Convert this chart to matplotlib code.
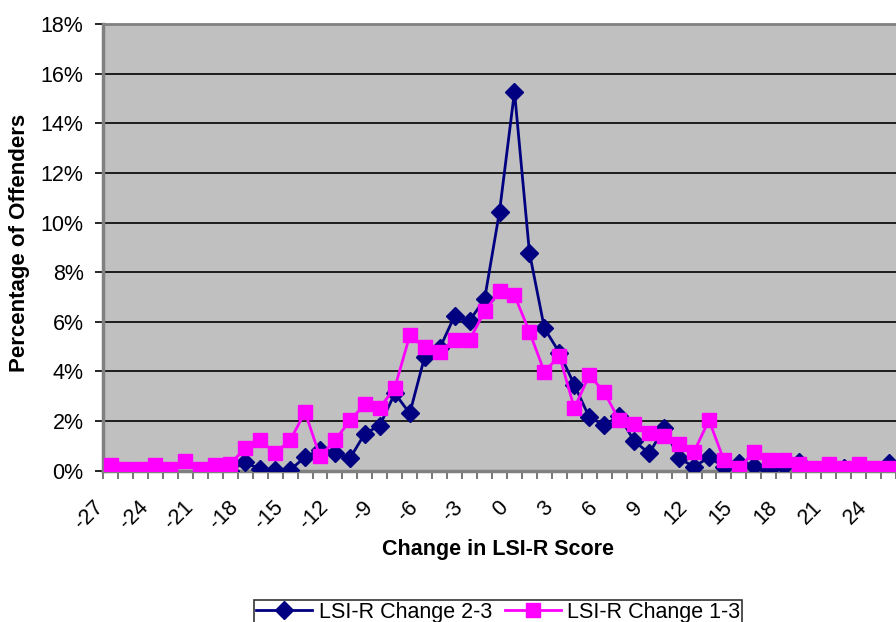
import numpy as np
import matplotlib
matplotlib.use("Agg")
import matplotlib.pyplot as plt
from matplotlib.transforms import ScaledTranslation

plt.rcParams['font.family'] = ['Liberation Sans', 'DejaVu Sans']

# --- Data ---
change = list(range(-26, 27))

# LSI-R Change 2-3 (no points drawn before -19)
change_23 = [None, None, None, None, None, None, None,
             0.1, 0.0, 0.35, 0.05, 0.03, 0.03, 0.55, 0.85, 0.7, 0.5,
             1.5, 1.82, 3.12, 2.31, 4.6, 4.93, 6.24, 6.05, 6.91,
             10.44, 15.28, 8.79, 5.74, 4.76, 3.46, 2.15, 1.84, 2.2, 1.2,
             0.7, 1.71, 0.5, 0.16, 0.54, 0.16, 0.3, 0.19, 0.03, 0.19,
             0.36, 0.03, 0.16, 0.1, 0.03, 0.03, 0.3]

# LSI-R Change 1-3
change_13 = [0.25, 0.08, 0.08, 0.25, 0.08, 0.4, 0.08, 0.25, 0.28,
             0.9, 1.22, 0.72, 1.22, 2.36, 0.58, 1.22, 2.03, 2.67, 2.54,
             3.34, 5.45, 4.97, 4.8, 5.27, 5.27, 6.42, 7.23, 7.07, 5.6,
             3.98, 4.64, 2.52, 3.85, 3.17, 2.03, 1.88, 1.54, 1.4, 1.07,
             0.76, 2.04, 0.42, 0.1, 0.76, 0.42, 0.42, 0.26, 0.1, 0.27,
             0.1, 0.27, 0.1, 0.1]

xtick_labels = list(range(-27, 25, 3))
yticks = list(range(0, 19, 2))

y23 = np.array([np.nan if v is None else v for v in change_23])
y13 = np.array(change_13)

# --- Figure ---
fig = plt.figure(figsize=(8.96, 6.22), dpi=100)
ax = fig.add_axes([0.115, 0.2432, 0.885, 0.7182])
ax.set_facecolor('#C0C0C0')

ax.set_xlim(-26.4, 26.27)
ax.set_ylim(0, 18)

for yv in yticks[1:-1]:
    ax.axhline(yv, color='black', lw=1.2, zorder=1)

ax.plot(change, y23, color='#000080', lw=2, marker='D', ms=9,
        label='LSI-R Change 2-3', zorder=3)
ax.plot(change, y13, color='#FF00FF', lw=2, marker='s', ms=9.5,
        label='LSI-R Change 1-3', zorder=4)

# axes frame like the spreadsheet chart
for side in ['left', 'bottom']:
    ax.spines[side].set_color('#808080')
    ax.spines[side].set_linewidth(2.5)
ax.spines['top'].set_color('#808080')
ax.spines['top'].set_linewidth(2)
ax.spines['right'].set_visible(False)

ax.set_yticks(yticks)
ax.set_yticklabels([f'{v}%' for v in yticks], fontsize=15.5)
ax.tick_params(axis='y', direction='out', length=6, width=1.2,
               color='black', pad=8)

ax.set_xticks([])
ax.set_xticks(np.arange(-26.5, 27, 1), minor=True)
ax.tick_params(axis='x', which='minor', direction='out', length=6,
               width=1.2, color='#606060')

# rotated category labels, nudged in pixels
shift = ScaledTranslation(0.05, -0.18, fig.dpi_scale_trans)
for v in xtick_labels:
    ax.text(v, -0.035, str(v), transform=ax.get_xaxis_transform() + shift,
            rotation=45, rotation_mode='anchor', ha='right', va='center',
            fontsize=15.5, clip_on=False)

fig.text(0.556, 1 - 550 / 622, 'Change in LSI-R Score', ha='center',
         va='center', fontsize=15.5, fontweight='bold')
fig.text(0.022, 1 - 243 / 622, 'Percentage of Offenders', ha='center',
         va='center', rotation=90, fontsize=16, fontweight='bold')

leg = fig.legend(loc='upper center', bbox_to_anchor=(0.556, 1 - 589 / 622),
                 ncol=2, fontsize=15.5, frameon=True, fancybox=False,
                 edgecolor='black', handlelength=2.6, columnspacing=0.6,
                 handletextpad=0.3, borderpad=0.1)
leg.get_frame().set_linewidth(1.2)

fig.savefig('out.png', dpi=100)
